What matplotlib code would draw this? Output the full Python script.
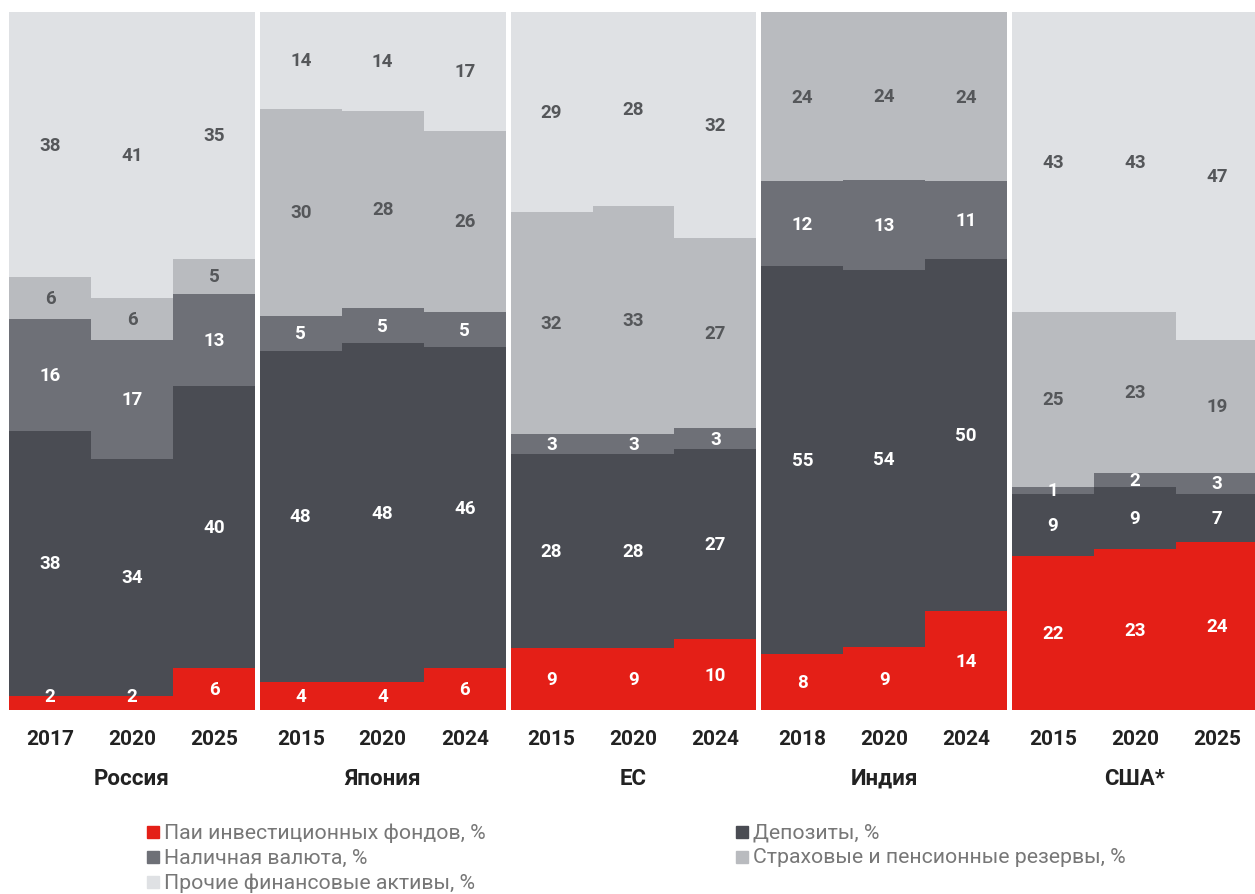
import matplotlib
matplotlib.use("Agg")
import matplotlib.pyplot as plt
from matplotlib.patches import Rectangle
from matplotlib.transforms import blended_transform_factory
import numpy as np

plt.rcParams['font.family'] = ['Roboto', 'DejaVu Sans']

countries = ['Россия', 'Япония', 'ЕС', 'Индия', 'США*']
years = [['2017', '2020', '2025'],
         ['2015', '2020', '2024'],
         ['2015', '2020', '2024'],
         ['2018', '2020', '2024'],
         ['2015', '2020', '2025']]

# структура финансовых активов домохозяйств, % (снизу вверх)
funds = [2, 2, 6, 4, 4, 6, 9, 9, 10, 8, 9, 14, 22, 23, 24]
deposits = [38, 34, 40, 48, 48, 46, 28, 28, 27, 55, 54, 50, 9, 9, 7]
cash = [16, 17, 13, 5, 5, 5, 3, 3, 3, 12, 13, 11, 1, 2, 3]
insurance = [6, 6, 5, 30, 28, 26, 32, 33, 27, 24, 24, 24, 25, 23, 19]
other = [38, 41, 35, 14, 14, 17, 29, 28, 32, 0, 0, 0, 43, 43, 47]

series = [funds, deposits, cash, insurance, other]
names = ['Паи инвестиционных фондов, %', 'Депозиты, %', 'Наличная валюта, %',
         'Страховые и пенсионные резервы, %', 'Прочие финансовые активы, %']
colors = ['#e41f17', '#4a4c53', '#6e7077', '#b9bbbf', '#dfe1e4']
text_colors = ['white', 'white', 'white', '#55575a', '#55575a']

gap = 0.058
x = np.array([g * (3 + gap) + i + 0.5 for g in range(5) for i in range(3)])

data = np.array(series, dtype=float)
totals = data.sum(axis=0)
shares = data / totals * 100

fig = plt.figure(figsize=(12.55, 8.95), dpi=100)
# правая группа чуть обрезана краем рисунка
ax = fig.add_axes([9 / 1255, 1 - 711 / 895, 1249 / 1255, 698 / 895])

bottom = np.zeros(len(x))
for k in range(len(series)):
    ax.bar(x, shares[k], width=1.0, bottom=bottom, color=colors[k],
           linewidth=0, antialiased=False)
    for j in range(len(x)):
        if series[k][j] == 0:
            continue
        yc = bottom[j] + shares[k][j] / 2
        if k == 0:
            yc = max(yc, 2.0)
        ax.text(x[j], yc, str(series[k][j]),
                ha='center', va='center', fontsize=13.5, fontweight='bold',
                color=text_colors[k])
    bottom += shares[k]

ax.set_xlim(0, 15 + 4 * gap)
ax.set_ylim(0, 100)
ax.set_yticks([])
ax.set_xticks(x, [y for g in years for y in g])
ax.tick_params(axis='x', length=0, pad=14, labelsize=15, labelcolor='#222222')
for lab in ax.get_xticklabels():
    lab.set_fontweight('bold')
for s in ax.spines.values():
    s.set_visible(False)

trans = blended_transform_factory(ax.transData, ax.transAxes)
for g, name in enumerate(countries):
    ax.text(g * (3 + gap) + 1.5, -0.097, name, transform=trans, ha='center',
            va='center', fontsize=16, fontweight='bold', color='#222222')

# легенда в две колонки
legend_pos = [(147, 833, 0), (147, 858, 2), (147, 883, 4), (736, 833, 1), (736, 858, 3)]
for px, py, k in legend_pos:
    fig.patches.append(Rectangle((px / 1255, 1 - (py + 6) / 895), 12 / 1255, 12 / 895,
                                 transform=fig.transFigure, color=colors[k]))
    fig.text((px + 17) / 1255, 1 - py / 895, names[k], ha='left', va='center',
             fontsize=15.3, color='#777777')

fig.savefig('out.png', dpi=100)
